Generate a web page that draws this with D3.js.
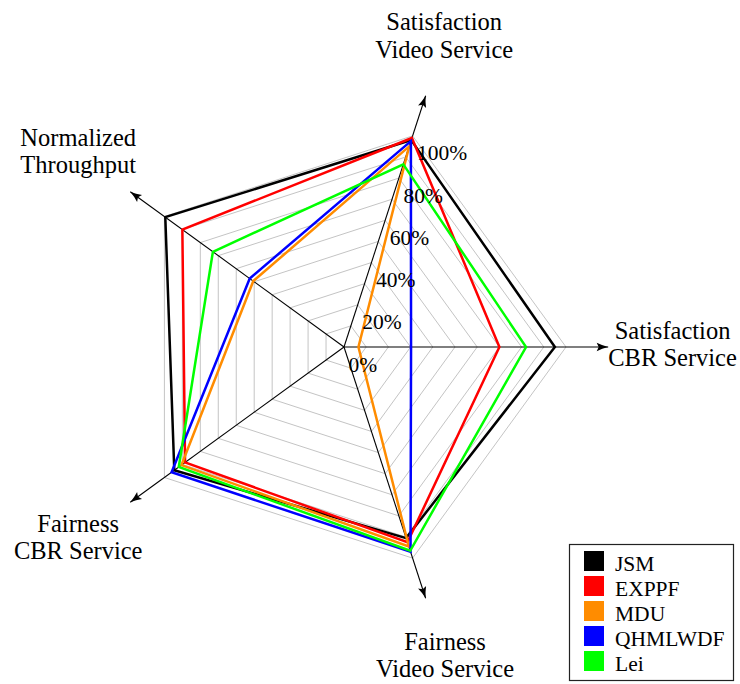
<!DOCTYPE html>
<html>
<head>
<meta charset="utf-8">
<script src="https://cdn.jsdelivr.net/npm/d3@7"></script>
<style>
  body { margin: 0; background: #fff; }
  svg { display: block; }
</style>
</head>
<body>
<script>
// Axis names, clockwise starting from the upper spoke
const axisNames = [
  ["Satisfaction", "Video Service"],
  ["Satisfaction", "CBR Service"],
  ["Fairness", "Video Service"],
  ["Fairness", "CBR Service"],
  ["Normalized", "Throughput"]
];

// Series, values in percent, same axis order
const seriesNames = ["JSM", "EXPPF", "MDU", "QHMLWDF", "Lei"];
const jsm     = [98,   95,   90.5, 94.5, 99.5];
const exppf   = [99,   70,   92.5, 88.5, 90];
const mdu     = [95,   6.5,  94.5, 90.5, 50.5];
const qhmlwdf = [97.5, 30.2, 97,   96,   52.5];
const lei     = [86.5, 82,   96.5, 92,   73];
const seriesValues = [jsm, exppf, mdu, qhmlwdf, lei];
const seriesColors = ["#000000", "#ff0000", "#ff8c00", "#0000ff", "#00ff00"];

// Tick labels along the first spoke, and the grid rings
const tickValues = [0, 20, 40, 60, 80, 100];
const tickLabels = ["0%", "20%", "40%", "60%", "80%", "100%"];
const gridLevels = [10, 20, 30, 40, 50, 60, 70, 80, 90, 100];

const W = 740, H = 684;
const cx = 344, cy = 347;
const FONT = "'Liberation Serif', Tinos, 'Times New Roman', Times, 'DejaVu Serif', serif";

const svg = d3.select("body").append("svg")
  .attr("width", W).attr("height", H)
  .attr("font-family", FONT);

const defs = svg.append("defs");
defs.append("marker")
  .attr("id", "arrow")
  .attr("markerUnits", "userSpaceOnUse")
  .attr("viewBox", "-12 -5 13 10")
  .attr("refX", 0).attr("refY", 0)
  .attr("markerWidth", 13).attr("markerHeight", 10)
  .attr("orient", "auto")
  .append("path")
  .attr("d", "M-11.5,-4.2 Q-6,-1.5 0,0 Q-6,1.5 -11.5,4.2 L-9.5,0 Z")
  .attr("fill", "#000");

const g = svg.append("g").attr("transform", `translate(${cx},${cy})`);

const r = d3.scaleLinear().domain([0, 100]).range([0, 222]);
// angle measured clockwise from 12 o'clock; first spoke sits 18 degrees right of vertical
const angle = d3.scaleLinear().domain([0, axisNames.length])
  .range([18 * Math.PI / 180, (18 + 360) * Math.PI / 180]);

const pt = (i, v) => [r(v) * Math.sin(angle(i)), -r(v) * Math.cos(angle(i))];
const axisIdx = d3.range(axisNames.length);

const ring = d3.lineRadial()
  .angle(d => angle(d[0]))
  .radius(d => r(d[1]))
  .curve(d3.curveLinearClosed);

// grid rings
g.append("g").selectAll("path")
  .data(gridLevels)
  .join("path")
  .attr("d", lv => ring(axisIdx.map(i => [i, lv])))
  .attr("fill", "none")
  .attr("stroke", "#c4c4c4")
  .attr("stroke-width", 1);

// spokes with arrow heads
const axisEnd = 119;
g.append("g").selectAll("line")
  .data(axisIdx)
  .join("line")
  .attr("x1", 0).attr("y1", 0)
  .attr("x2", i => pt(i, axisEnd)[0])
  .attr("y2", i => pt(i, axisEnd)[1])
  .attr("stroke", "#000")
  .attr("stroke-width", 1.1)
  .attr("marker-end", "url(#arrow)");

// series polygons
g.append("g").selectAll("path")
  .data(seriesValues)
  .join("path")
  .attr("d", vals => ring(vals.map((v, i) => [i, v])))
  .attr("fill", "none")
  .attr("stroke", (d, k) => seriesColors[k])
  .attr("stroke-width", 2.5)
  .attr("stroke-linejoin", "miter");

// tick labels along the first spoke
g.append("g").selectAll("text")
  .data(tickValues)
  .join("text")
  .attr("x", (v) => pt(0, v)[0] + 4.5)
  .attr("y", (v) => pt(0, v)[1] + 24.5)
  .attr("font-size", "21.5px")
  .attr("fill", "#000")
  .text((v, k) => tickLabels[k]);

// axis titles
const labelRadius = [146, 148, 147.3, 148, 148];
const titles = g.append("g").selectAll("text")
  .data(axisIdx)
  .join("text")
  .attr("text-anchor", "middle")
  .attr("font-size", "24.5px")
  .attr("fill", "#000")
  .attr("transform", i => {
    const p = pt(i, labelRadius[i]);
    return `translate(${p[0]},${p[1]})`;
  });
titles.each(function(i) {
  const t = d3.select(this);
  t.append("tspan").attr("x", 0).attr("y", -8.3).text(axisNames[i][0]);
  t.append("tspan").attr("x", 0).attr("y", 19.3).text(axisNames[i][1]);
});

// legend
const lg = svg.append("g").attr("transform", "translate(569.5,544.5)");
lg.append("rect")
  .attr("width", 164).attr("height", 136)
  .attr("fill", "#fff")
  .attr("stroke", "#222")
  .attr("stroke-width", 1.2);
const rows = lg.selectAll("g.row")
  .data(seriesNames)
  .join("g")
  .attr("class", "row")
  .attr("transform", (d, k) => `translate(14.5,${6.5 + k * 25})`);
rows.append("rect")
  .attr("width", 20).attr("height", 20)
  .attr("fill", (d, k) => seriesColors[k]);
rows.append("text")
  .attr("x", 31).attr("y", 19.5)
  .attr("font-size", "21.5px")
  .attr("fill", "#000")
  .text(d => d);
</script>
</body>
</html>
